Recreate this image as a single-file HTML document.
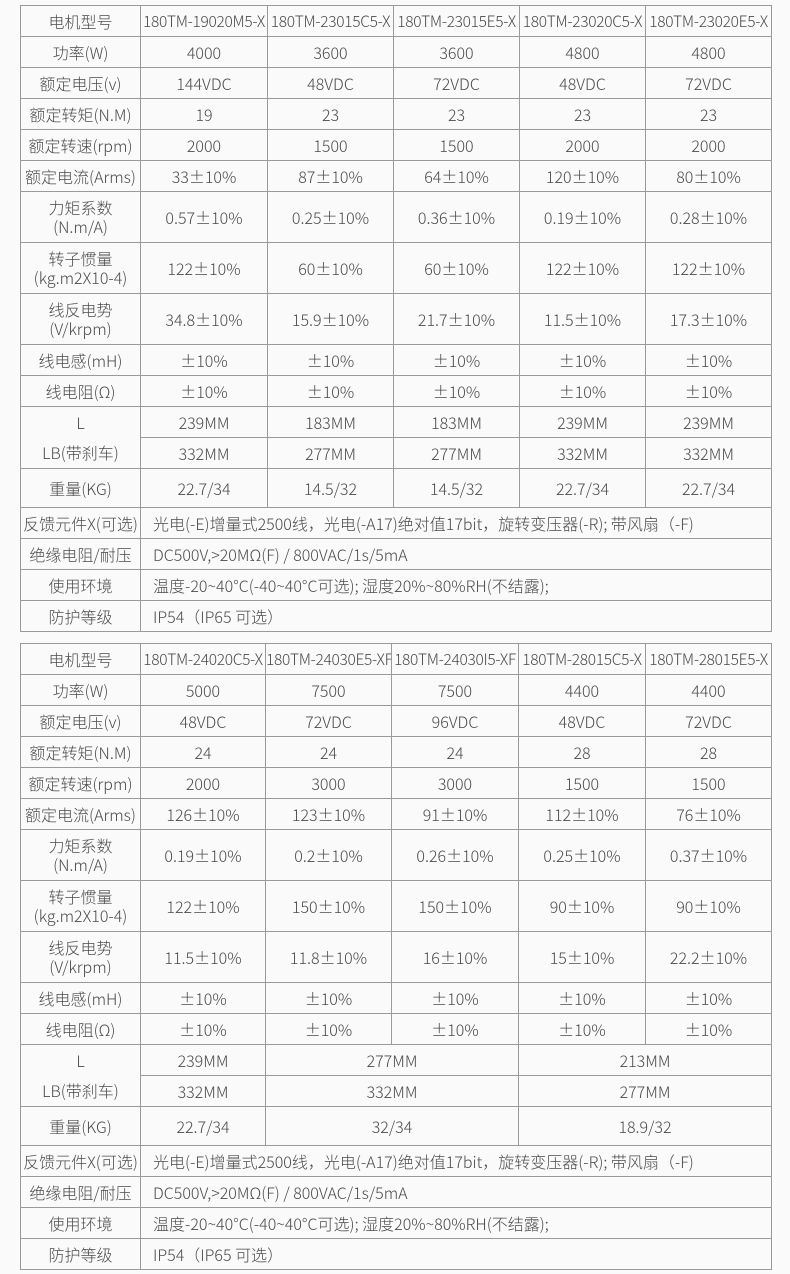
<!DOCTYPE html>
<html><head><meta charset="utf-8"><style>
html,body{margin:0;padding:0;background:#fafafa;width:790px;height:1274px;overflow:hidden}
table{position:absolute;left:20px;width:751px;border-collapse:collapse;table-layout:fixed;font-family:"Noto Sans CJK SC","Liberation Sans",sans-serif;font-size:16px;color:#4a4a4a;font-weight:300}
td{border:1px solid #9a9a9a;text-align:center;padding:0;white-space:nowrap;overflow:hidden;line-height:19px}
td.l{text-align:left;padding-left:12px}
.h td{font-size:15.5px;letter-spacing:-0.3px}
.nb{border-bottom:none}.nt{border-top:none}
</style></head><body>
<table style="top:5px">
<colgroup><col style="width:120px"><col style="width:127px"><col style="width:126px"><col style="width:126px"><col style="width:126px"><col style="width:126px"></colgroup>
<tr class="h" style="height:31px"><td style="font-size:16px;letter-spacing:0">电机型号</td><td>180TM-19020M5-X</td><td>180TM-23015C5-X</td><td>180TM-23015E5-X</td><td>180TM-23020C5-X</td><td>180TM-23020E5-X</td></tr>
<tr style="height:31px"><td>功率(W)</td><td>4000</td><td>3600</td><td>3600</td><td>4800</td><td>4800</td></tr>
<tr style="height:31px"><td>额定电压(v)</td><td>144VDC</td><td>48VDC</td><td>72VDC</td><td>48VDC</td><td>72VDC</td></tr>
<tr style="height:31px"><td>额定转矩(N.M)</td><td>19</td><td>23</td><td>23</td><td>23</td><td>23</td></tr>
<tr style="height:31px"><td>额定转速(rpm)</td><td>2000</td><td>1500</td><td>1500</td><td>2000</td><td>2000</td></tr>
<tr style="height:31px"><td>额定电流(Arms)</td><td>33±10%</td><td>87±10%</td><td>64±10%</td><td>120±10%</td><td>80±10%</td></tr>
<tr style="height:51px"><td>力矩系数<br>(N.m/A)</td><td>0.57±10%</td><td>0.25±10%</td><td>0.36±10%</td><td>0.19±10%</td><td>0.28±10%</td></tr>
<tr style="height:51px"><td>转子惯量<br>(kg.m2X10-4)</td><td>122±10%</td><td>60±10%</td><td>60±10%</td><td>122±10%</td><td>122±10%</td></tr>
<tr style="height:51px"><td>线反电势<br>(V/krpm)</td><td>34.8±10%</td><td>15.9±10%</td><td>21.7±10%</td><td>11.5±10%</td><td>17.3±10%</td></tr>
<tr style="height:31px"><td>线电感(mH)</td><td>±10%</td><td>±10%</td><td>±10%</td><td>±10%</td><td>±10%</td></tr>
<tr style="height:31px"><td>线电阻(Ω)</td><td>±10%</td><td>±10%</td><td>±10%</td><td>±10%</td><td>±10%</td></tr>
<tr style="height:31px"><td class="nb">L</td><td>239MM</td><td>183MM</td><td>183MM</td><td>239MM</td><td>239MM</td></tr>
<tr style="height:31px"><td class="nt">LB(带刹车)</td><td>332MM</td><td>277MM</td><td>277MM</td><td>332MM</td><td>332MM</td></tr>
<tr style="height:39px"><td>重量(KG)</td><td>22.7/34</td><td>14.5/32</td><td>14.5/32</td><td>22.7/34</td><td>22.7/34</td></tr>
<tr style="height:31px"><td>反馈元件X(可选)</td><td colspan="5" class="l">光电(-E)增量式2500线，光电(-A17)绝对值17bit，旋转变压器(-R); 带风扇（-F)</td></tr>
<tr style="height:31px"><td>绝缘电阻/耐压</td><td colspan="5" class="l">DC500V,&gt;20MΩ(F) / 800VAC/1s/5mA</td></tr>
<tr style="height:31px"><td>使用环境</td><td colspan="5" class="l">温度-20~40°C(-40~40°C可选); 湿度20%~80%RH(不结露);</td></tr>
<tr style="height:31px"><td>防护等级</td><td colspan="5" class="l">IP54（IP65 可选）</td></tr>
</table>
<table style="top:643px">
<colgroup><col style="width:120px"><col style="width:125px"><col style="width:126px"><col style="width:127px"><col style="width:127px"><col style="width:126px"></colgroup>
<tr class="h" style="height:31px"><td style="font-size:16px;letter-spacing:0">电机型号</td><td>180TM-24020C5-X</td><td>180TM-24030E5-XF</td><td>180TM-24030I5-XF</td><td>180TM-28015C5-X</td><td>180TM-28015E5-X</td></tr>
<tr style="height:31px"><td>功率(W)</td><td>5000</td><td>7500</td><td>7500</td><td>4400</td><td>4400</td></tr>
<tr style="height:31px"><td>额定电压(v)</td><td>48VDC</td><td>72VDC</td><td>96VDC</td><td>48VDC</td><td>72VDC</td></tr>
<tr style="height:31px"><td>额定转矩(N.M)</td><td>24</td><td>24</td><td>24</td><td>28</td><td>28</td></tr>
<tr style="height:31px"><td>额定转速(rpm)</td><td>2000</td><td>3000</td><td>3000</td><td>1500</td><td>1500</td></tr>
<tr style="height:31px"><td>额定电流(Arms)</td><td>126±10%</td><td>123±10%</td><td>91±10%</td><td>112±10%</td><td>76±10%</td></tr>
<tr style="height:51px"><td>力矩系数<br>(N.m/A)</td><td>0.19±10%</td><td>0.2±10%</td><td>0.26±10%</td><td>0.25±10%</td><td>0.37±10%</td></tr>
<tr style="height:51px"><td>转子惯量<br>(kg.m2X10-4)</td><td>122±10%</td><td>150±10%</td><td>150±10%</td><td>90±10%</td><td>90±10%</td></tr>
<tr style="height:51px"><td>线反电势<br>(V/krpm)</td><td>11.5±10%</td><td>11.8±10%</td><td>16±10%</td><td>15±10%</td><td>22.2±10%</td></tr>
<tr style="height:31px"><td>线电感(mH)</td><td>±10%</td><td>±10%</td><td>±10%</td><td>±10%</td><td>±10%</td></tr>
<tr style="height:31px"><td>线电阻(Ω)</td><td>±10%</td><td>±10%</td><td>±10%</td><td>±10%</td><td>±10%</td></tr>
<tr style="height:31px"><td class="nb">L</td><td>239MM</td><td colspan="2">277MM</td><td colspan="2">213MM</td></tr>
<tr style="height:31px"><td class="nt">LB(带刹车)</td><td>332MM</td><td colspan="2">332MM</td><td colspan="2">277MM</td></tr>
<tr style="height:39px"><td>重量(KG)</td><td>22.7/34</td><td colspan="2">32/34</td><td colspan="2">18.9/32</td></tr>
<tr style="height:31px"><td>反馈元件X(可选)</td><td colspan="5" class="l">光电(-E)增量式2500线，光电(-A17)绝对值17bit，旋转变压器(-R); 带风扇（-F)</td></tr>
<tr style="height:31px"><td>绝缘电阻/耐压</td><td colspan="5" class="l">DC500V,&gt;20MΩ(F) / 800VAC/1s/5mA</td></tr>
<tr style="height:31px"><td>使用环境</td><td colspan="5" class="l">温度-20~40°C(-40~40°C可选); 湿度20%~80%RH(不结露);</td></tr>
<tr style="height:31px"><td>防护等级</td><td colspan="5" class="l">IP54（IP65 可选）</td></tr>
</table>
</body></html>
